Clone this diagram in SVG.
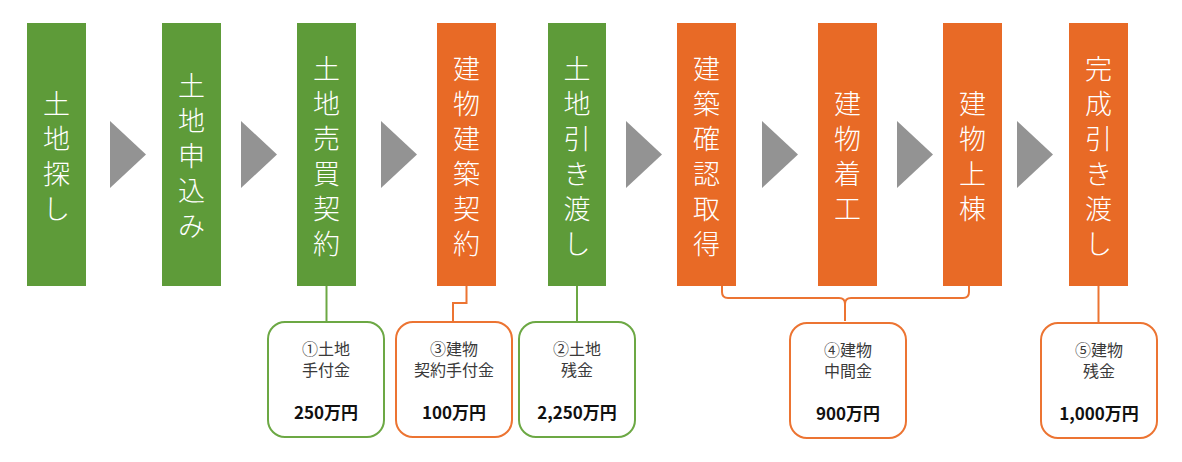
<svg xmlns="http://www.w3.org/2000/svg" width="1182" height="462" viewBox="0 0 1182 462">
<style>
.g{fill:#5E9B39}
.o{fill:#E86A26}
.st{font-family:"Noto Sans CJK JP","Noto Sans",sans-serif;font-size:27px;font-weight:300;fill:#fff;text-anchor:middle;dominant-baseline:central}
.arr{fill:#939393}
.bg{fill:#fff;stroke:#6CA844;stroke-width:2}
.bo{fill:#fff;stroke:#EC7432;stroke-width:2}
.lb{font-family:"Noto Sans CJK JP","Noto Sans",sans-serif;font-size:16px;fill:#3a3a3a;text-anchor:middle;dominant-baseline:central}
.am{font-family:"Noto Sans CJK JP","Noto Sans",sans-serif;font-size:17px;font-weight:bold;fill:#111;text-anchor:middle;dominant-baseline:central}
.cg{fill:none;stroke:#6CA844;stroke-width:2}
.co{fill:none;stroke:#EC7432;stroke-width:2}
</style>
<rect width="1182" height="462" fill="#fff"/>
<g id="connectors">
<path class="cg" d="M326.5,285 V322"/>
<path class="co" d="M466.5,285 V303 H453 V322"/>
<path class="cg" d="M577,285 V322"/>
<path class="co" d="M722,285 V292 Q722,298 728,298 H839 Q845,298 845,304 V321 M845,304 Q845,298 851,298 H963 Q969,298 969,292 V285"/>
<path class="co" d="M1098.5,285 V323"/>
</g>
<g id="arrows">
<polygon class="arr" points="110,121 146,154.5 110,188"/>
<polygon class="arr" points="241,121 277,154.5 241,188"/>
<polygon class="arr" points="381,121 417,154.5 381,188"/>
<polygon class="arr" points="626,121 662,154.5 626,188"/>
<polygon class="arr" points="762,121 798,154.5 762,188"/>
<polygon class="arr" points="897,121 933,154.5 897,188"/>
<polygon class="arr" points="1017,121 1053,154.5 1017,188"/>
</g>
<g id="step1">
<rect class="g" x="27" y="23" width="59" height="263"/>
<text class="st"><tspan x="56.5" y="101.5">土</tspan><tspan x="56.5" y="136.5">地</tspan><tspan x="56.5" y="171.5">探</tspan><tspan x="56.5" y="206.5">し</tspan></text>
</g>
<g id="step2">
<rect class="g" x="162" y="23" width="59" height="263"/>
<text class="st"><tspan x="191.5" y="84">土</tspan><tspan x="191.5" y="119">地</tspan><tspan x="191.5" y="154">申</tspan><tspan x="191.5" y="189">込</tspan><tspan x="191.5" y="224">み</tspan></text>
</g>
<g id="step3">
<rect class="g" x="297" y="23" width="59" height="263"/>
<text class="st"><tspan x="326.5" y="66.5">土</tspan><tspan x="326.5" y="101.5">地</tspan><tspan x="326.5" y="136.5">売</tspan><tspan x="326.5" y="171.5">買</tspan><tspan x="326.5" y="206.5">契</tspan><tspan x="326.5" y="241.5">約</tspan></text>
</g>
<g id="step4">
<rect class="o" x="437" y="23" width="59" height="263"/>
<text class="st"><tspan x="466.5" y="66.5">建</tspan><tspan x="466.5" y="101.5">物</tspan><tspan x="466.5" y="136.5">建</tspan><tspan x="466.5" y="171.5">築</tspan><tspan x="466.5" y="206.5">契</tspan><tspan x="466.5" y="241.5">約</tspan></text>
</g>
<g id="step5">
<rect class="g" x="548" y="23" width="58" height="263"/>
<text class="st"><tspan x="577" y="66.5">土</tspan><tspan x="577" y="101.5">地</tspan><tspan x="577" y="136.5">引</tspan><tspan x="577" y="171.5">き</tspan><tspan x="577" y="206.5">渡</tspan><tspan x="577" y="241.5">し</tspan></text>
</g>
<g id="step6">
<rect class="o" x="677" y="23" width="59" height="263"/>
<text class="st"><tspan x="706.5" y="66.5">建</tspan><tspan x="706.5" y="101.5">築</tspan><tspan x="706.5" y="136.5">確</tspan><tspan x="706.5" y="171.5">認</tspan><tspan x="706.5" y="206.5">取</tspan><tspan x="706.5" y="241.5">得</tspan></text>
</g>
<g id="step7">
<rect class="o" x="818" y="23" width="59" height="263"/>
<text class="st"><tspan x="847.5" y="101.5">建</tspan><tspan x="847.5" y="136.5">物</tspan><tspan x="847.5" y="171.5">着</tspan><tspan x="847.5" y="206.5">工</tspan></text>
</g>
<g id="step8">
<rect class="o" x="943" y="23" width="59" height="263"/>
<text class="st"><tspan x="972.5" y="101.5">建</tspan><tspan x="972.5" y="136.5">物</tspan><tspan x="972.5" y="171.5">上</tspan><tspan x="972.5" y="206.5">棟</tspan></text>
</g>
<g id="step9">
<rect class="o" x="1069" y="23" width="59" height="263"/>
<text class="st"><tspan x="1098.5" y="66.5">完</tspan><tspan x="1098.5" y="101.5">成</tspan><tspan x="1098.5" y="136.5">引</tspan><tspan x="1098.5" y="171.5">き</tspan><tspan x="1098.5" y="206.5">渡</tspan><tspan x="1098.5" y="241.5">し</tspan></text>
</g>
<g id="pay1">
<rect class="bg" x="268" y="322" width="116" height="115" rx="17"/>
<text class="lb" x="326" y="348">①土地</text>
<text class="lb" x="326" y="369">手付金</text>
<text class="am" x="326" y="411">250万円</text>
</g>
<g id="pay3">
<rect class="bo" x="396" y="322" width="116" height="115" rx="17"/>
<text class="lb" x="454" y="348">③建物</text>
<text class="lb" x="454" y="369">契約手付金</text>
<text class="am" x="454" y="411">100万円</text>
</g>
<g id="pay2">
<rect class="bg" x="519" y="322" width="116" height="115" rx="17"/>
<text class="lb" x="577" y="348">②土地</text>
<text class="lb" x="577" y="369">残金</text>
<text class="am" x="577" y="411">2,250万円</text>
</g>
<g id="pay4">
<rect class="bo" x="790" y="323" width="116" height="115" rx="17"/>
<text class="lb" x="848" y="349">④建物</text>
<text class="lb" x="848" y="370">中間金</text>
<text class="am" x="848" y="412">900万円</text>
</g>
<g id="pay5">
<rect class="bo" x="1041" y="323" width="116" height="115" rx="17"/>
<text class="lb" x="1099" y="349">⑤建物</text>
<text class="lb" x="1099" y="370">残金</text>
<text class="am" x="1099" y="412">1,000万円</text>
</g>
</svg>
